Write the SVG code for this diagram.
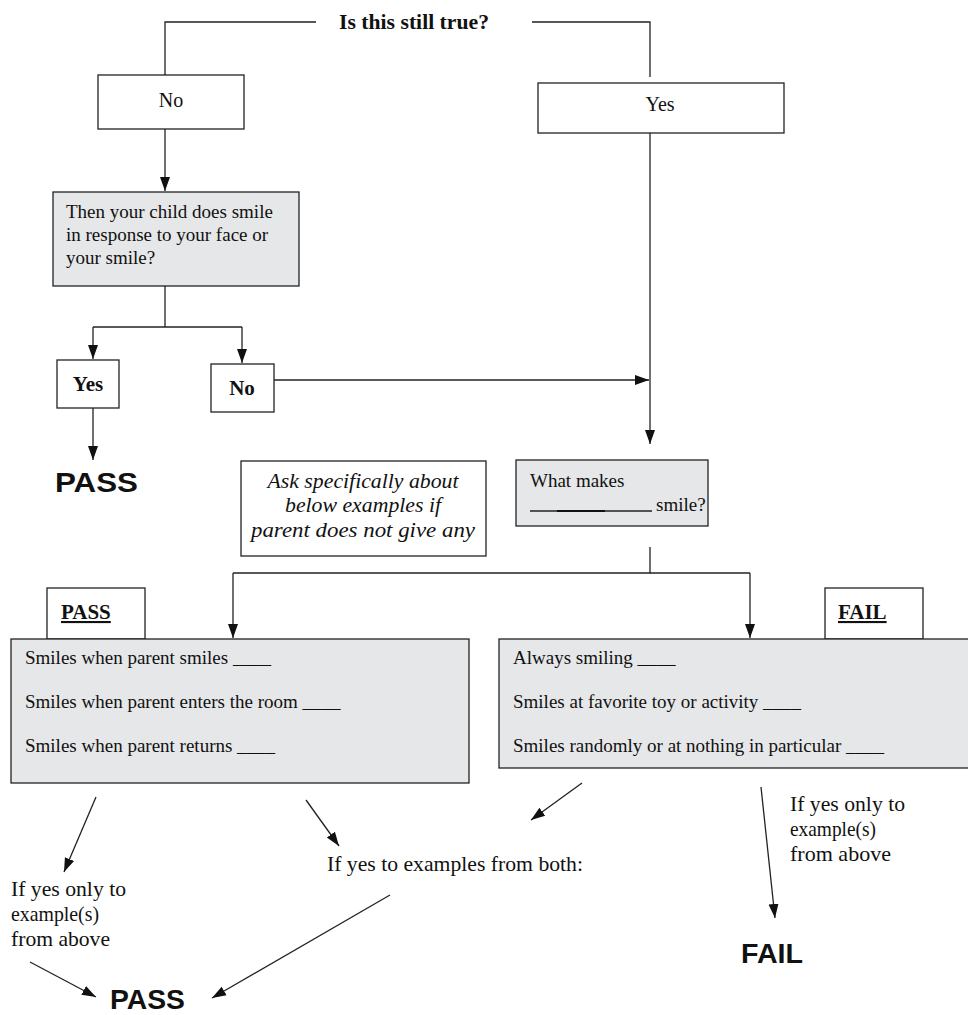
<svg xmlns="http://www.w3.org/2000/svg" width="968" height="1015" viewBox="0 0 968 1015">
<style>
.box{fill:#fff;stroke:#222;stroke-width:1.3}
.gbox{fill:#e6e7e8;stroke:#222;stroke-width:1.3}
.ln{fill:none;stroke:#222;stroke-width:1.3}
.t{font-family:"Liberation Serif",serif;font-size:19px;fill:#111}
.tl{font-family:"Liberation Serif",serif;font-size:20px;fill:#111}
.tb{font-family:"Liberation Serif",serif;font-size:21px;font-weight:bold;fill:#111}
.ti{font-family:"Liberation Serif",serif;font-size:21px;font-style:italic;fill:#111}
.big{font-family:"Liberation Sans",sans-serif;font-size:28px;font-weight:bold;fill:#111}
.n{font-family:"Liberation Serif",serif;font-size:22px;fill:#111}
</style>
<defs>
<marker id="ah2" viewBox="0 0 14 10" refX="14" refY="5" markerWidth="14" markerHeight="12" markerUnits="userSpaceOnUse" orient="auto">
<path d="M0,0 L14,5 L0,10 z" fill="#111"/>
</marker>
</defs>
<g id="connectors">
<path class="ln" d="M165,75 V22 H316"/>
<path class="ln" d="M532,22 H650 V77"/>
<path class="ln" d="M165,129 V191" marker-end="url(#ah2)"/>
<path class="ln" d="M165,286 V327"/>
<path class="ln" d="M93,327 H242"/>
<path class="ln" d="M93,327 V359" marker-end="url(#ah2)"/>
<path class="ln" d="M242,327 V363" marker-end="url(#ah2)"/>
<path class="ln" d="M93,408 V460" marker-end="url(#ah2)"/>
<path class="ln" d="M274,380 H649" marker-end="url(#ah2)"/>
<path class="ln" d="M650,133 V444" marker-end="url(#ah2)"/>
<path class="ln" d="M650,547 V573 H233"/>
<path class="ln" d="M650,573 H750"/>
<path class="ln" d="M233,573 V638" marker-end="url(#ah2)"/>
<path class="ln" d="M750,573 V638" marker-end="url(#ah2)"/>
<path class="ln" d="M96,797 L64,872" marker-end="url(#ah2)"/>
<path class="ln" d="M306,800 L339,846" marker-end="url(#ah2)"/>
<path class="ln" d="M582,783 L531,820" marker-end="url(#ah2)"/>
<path class="ln" d="M761,787 L775,918" marker-end="url(#ah2)"/>
<path class="ln" d="M30,962 L96,997" marker-end="url(#ah2)"/>
<path class="ln" d="M390,895 L212,998" marker-end="url(#ah2)"/>
</g>
<g id="title"><text class="tb" x="414" y="29" text-anchor="middle" textLength="150" lengthAdjust="spacingAndGlyphs">Is this still true?</text></g>
<g id="no-top"><rect class="box" x="98" y="75" width="146" height="54"/><text class="tl" x="171" y="107" text-anchor="middle">No</text></g>
<g id="yes-top"><rect class="box" x="538" y="83" width="246" height="50"/><text class="tl" x="660" y="111" text-anchor="middle">Yes</text></g>
<g id="question"><rect class="gbox" x="53" y="192" width="246" height="94"/>
<text class="t" x="66" y="218">Then your child does smile</text>
<text class="t" x="66" y="241">in response to your face or</text>
<text class="t" x="66" y="264">your smile?</text></g>
<g id="yes-q"><rect class="box" x="57" y="360" width="62" height="48"/><text class="tb" x="88" y="391" text-anchor="middle">Yes</text></g>
<g id="no-q"><rect class="box" x="211" y="364" width="63" height="48"/><text class="tb" x="242" y="395" text-anchor="middle">No</text></g>
<g id="pass1"><text class="big" x="55" y="492" textLength="83" lengthAdjust="spacingAndGlyphs">PASS</text></g>
<g id="note"><rect class="box" x="241" y="461" width="245" height="95"/>
<text class="ti" x="363" y="488" text-anchor="middle" textLength="191" lengthAdjust="spacingAndGlyphs">Ask specifically about</text>
<text class="ti" x="363" y="512" text-anchor="middle" textLength="156" lengthAdjust="spacingAndGlyphs">below examples if</text>
<text class="ti" x="363" y="537" text-anchor="middle" textLength="224" lengthAdjust="spacingAndGlyphs">parent does not give any</text></g>
<g id="what"><rect class="gbox" x="516" y="460" width="192" height="66"/>
<text class="t" x="530" y="487">What makes</text>
<path class="ln" d="M530,511 H652"/><path d="M557,511 H605" stroke="#111" stroke-width="2.2"/>
<text class="t" x="656" y="511">smile?</text></g>
<g id="pass-label"><rect class="box" x="47" y="588" width="98" height="51"/><text class="tb" x="61" y="619" text-decoration="underline">PASS</text></g>
<g id="pass-box"><rect class="gbox" x="11" y="639" width="458" height="144"/>
<text class="t" x="25" y="664">Smiles when parent smiles ____</text>
<text class="t" x="25" y="708">Smiles when parent enters the room ____</text>
<text class="t" x="25" y="752">Smiles when parent returns ____</text></g>
<g id="fail-label"><rect class="box" x="825" y="588" width="98" height="51"/><text class="tb" x="838" y="619" text-decoration="underline">FAIL</text></g>
<g id="fail-box"><rect class="gbox" x="499" y="639" width="475" height="129"/>
<text class="t" x="513" y="664">Always smiling ____</text>
<text class="t" x="513" y="708">Smiles at favorite toy or activity ____</text>
<text class="t" x="513" y="752">Smiles randomly or at nothing in particular ____</text></g>
<g id="both"><text class="n" x="327" y="871" textLength="256" lengthAdjust="spacingAndGlyphs">If yes to examples from both:</text></g>
<g id="left-only"><text class="n" x="11" y="896" textLength="115" lengthAdjust="spacingAndGlyphs">If yes only to</text><text class="n" x="11" y="921" textLength="88" lengthAdjust="spacingAndGlyphs">example(s)</text><text class="n" x="11" y="946" textLength="99" lengthAdjust="spacingAndGlyphs">from above</text></g>
<g id="right-only"><text class="n" x="790" y="811" textLength="115" lengthAdjust="spacingAndGlyphs">If yes only to</text><text class="n" x="790" y="836" textLength="86" lengthAdjust="spacingAndGlyphs">example(s)</text><text class="n" x="790" y="861" textLength="101" lengthAdjust="spacingAndGlyphs">from above</text></g>
<g id="pass2"><text class="big" x="110" y="1009" textLength="75" lengthAdjust="spacingAndGlyphs">PASS</text></g>
<g id="fail2"><text class="big" x="741" y="963" textLength="62" lengthAdjust="spacingAndGlyphs">FAIL</text></g>
</svg>
